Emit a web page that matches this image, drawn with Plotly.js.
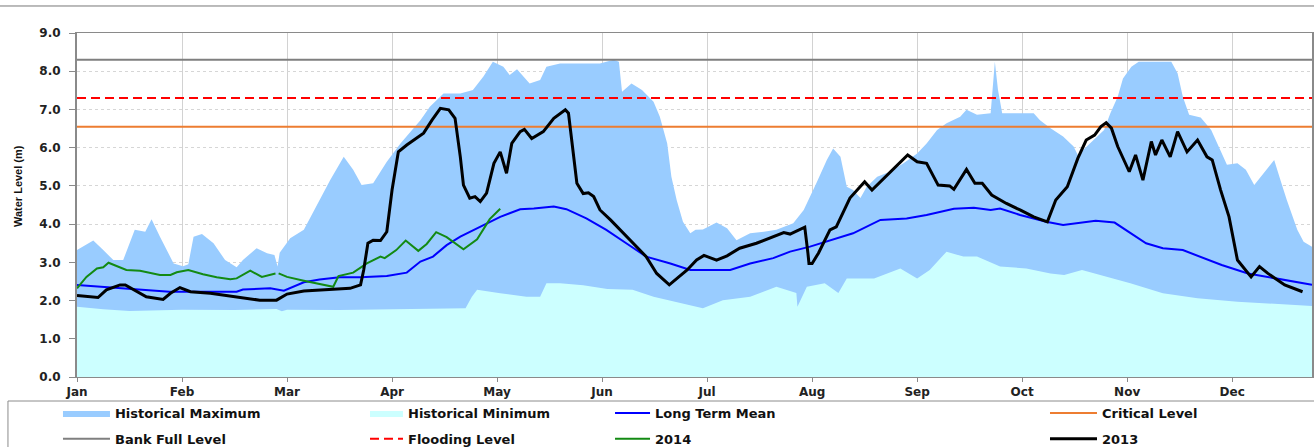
<!DOCTYPE html>
<html>
<head>
<meta charset="utf-8">
<script src="https://cdn.plot.ly/plotly-3.0.1.min.js"></script>
<style>
  body { margin: 0; background: #fff; }
  #chart { width: 1314px; height: 447px; }
</style>
</head>
<body>
<div id="chart"></div>
<script>
// months on x are month index (0 = 1 Jan, 1 = 1 Feb ...)
var monthLabels = ['Jan','Feb','Mar','Apr','May','Jun','Jul','Aug','Sep','Oct','Nov','Dec'];
var monthTicks = [0,1,2,3,4,5,6,7,8,9,10,11];
var xEnd = 11.76;

// reference levels (m)
var bankFull = 8.3;
var floodLevel = 7.3;
var criticalLevel = 6.55;

// historical maximum
var maxX = [0.00,0.155,0.25,0.346,0.44,0.55,0.65,0.71,0.79,0.92,1.01,1.06,1.11,1.19,1.30,1.41,1.52,1.58,1.71,1.81,1.88,1.91,1.93,2.03,2.16,2.28,2.41,2.54,2.63,2.71,2.82,2.95,3.08,3.27,3.36,3.49,3.65,3.77,3.87,3.96,4.06,4.12,4.19,4.31,4.41,4.47,4.60,4.79,4.98,5.11,5.16,5.19,5.28,5.38,5.49,5.55,5.62,5.66,5.71,5.77,5.84,5.89,5.96,6.09,6.19,6.28,6.41,6.54,6.66,6.82,6.92,7.04,7.14,7.20,7.27,7.33,7.39,7.46,7.52,7.62,7.74,7.87,8.00,8.09,8.19,8.28,8.41,8.47,8.57,8.70,8.72,8.74,8.77,8.81,8.98,9.11,9.17,9.27,9.39,9.49,9.53,9.65,9.78,9.84,9.91,9.96,10.04,10.11,10.42,10.48,10.53,10.59,10.70,10.80,10.89,10.95,11.05,11.13,11.21,11.30,11.40,11.46,11.52,11.62,11.68,11.76];
var maxY = [3.32,3.57,3.32,3.06,3.06,3.85,3.80,4.13,3.67,2.97,2.90,2.95,3.67,3.74,3.50,3.06,2.87,3.06,3.37,3.24,3.19,2.89,3.25,3.63,3.85,4.46,5.15,5.76,5.42,5.02,5.07,5.63,6.11,6.72,7.07,7.42,7.42,7.51,7.86,8.25,8.12,7.90,8.05,7.68,7.77,8.12,8.20,8.20,8.20,8.30,8.25,7.46,7.68,7.51,7.20,6.81,6.11,5.24,4.63,4.06,3.76,3.85,3.86,4.04,3.89,3.58,3.76,3.80,3.85,4.02,4.37,5.07,5.68,5.98,5.76,4.98,4.89,4.68,4.98,5.24,5.37,5.59,5.85,6.11,6.46,6.64,6.81,6.99,6.86,6.90,7.51,8.25,7.51,6.90,6.90,6.90,6.72,6.51,6.29,6.03,5.81,6.11,6.46,6.90,7.33,7.81,8.12,8.25,8.25,7.95,7.33,6.86,6.79,6.46,5.94,5.55,5.59,5.42,5.02,5.33,5.68,5.15,4.63,3.85,3.54,3.41];

// historical minimum
var minX = [0.00,0.25,0.50,1.00,1.50,1.90,1.95,2.00,2.50,3.00,3.50,3.70,3.76,3.81,4.03,4.28,4.41,4.47,4.60,4.82,5.05,5.29,5.49,5.74,5.96,6.15,6.41,6.66,6.85,6.86,6.95,7.12,7.25,7.33,7.59,7.84,8.00,8.12,8.28,8.44,8.57,8.79,9.04,9.27,9.40,9.57,10.03,10.34,10.67,11.05,11.76];
var minY = [1.84,1.77,1.73,1.76,1.75,1.78,1.72,1.76,1.75,1.77,1.78,1.80,2.10,2.28,2.19,2.10,2.10,2.45,2.45,2.40,2.30,2.28,2.10,1.93,1.80,2.01,2.10,2.36,2.20,1.84,2.36,2.45,2.20,2.58,2.58,2.84,2.58,2.80,3.28,3.15,3.15,2.89,2.84,2.71,2.67,2.80,2.45,2.19,2.06,1.97,1.86];

// long term mean
var meanX = [0.00,0.41,0.88,1.36,1.52,1.58,1.84,1.97,2.16,2.31,2.50,2.70,2.95,3.14,3.27,3.39,3.52,3.65,3.84,4.03,4.22,4.35,4.54,4.66,4.85,5.04,5.23,5.42,5.65,5.84,6.22,6.41,6.63,6.79,6.98,7.17,7.39,7.65,7.90,8.09,8.35,8.54,8.70,8.79,8.98,9.23,9.39,9.70,9.88,10.18,10.34,10.53,10.70,10.90,11.15,11.43,11.76];
var meanY = [2.41,2.32,2.23,2.23,2.23,2.29,2.32,2.26,2.48,2.55,2.61,2.61,2.64,2.73,3.02,3.15,3.45,3.67,3.93,4.19,4.39,4.41,4.46,4.39,4.15,3.85,3.50,3.15,2.97,2.80,2.80,2.97,3.11,3.28,3.41,3.58,3.76,4.11,4.15,4.24,4.40,4.43,4.37,4.41,4.24,4.06,3.98,4.09,4.04,3.50,3.37,3.32,3.15,2.93,2.71,2.58,2.41];

// 2014 (null = missing reading)
var y2014X = [0.00,0.09,0.19,0.25,0.30,0.38,0.47,0.60,0.79,0.89,0.95,1.06,1.20,1.33,1.46,1.52,1.57,1.65,1.76,1.87,1.89,1.90,1.92,2.00,2.16,2.31,2.44,2.49,2.63,2.76,2.89,2.93,3.04,3.13,3.25,3.33,3.42,3.52,3.68,3.81,3.93,4.03];
var y2014Y = [2.32,2.62,2.84,2.87,2.99,2.90,2.80,2.78,2.67,2.67,2.74,2.80,2.69,2.61,2.56,2.58,2.66,2.78,2.62,2.71,2.71,null,2.71,2.62,2.52,2.43,2.36,2.64,2.73,2.97,3.15,3.11,3.32,3.57,3.30,3.48,3.79,3.66,3.34,3.60,4.13,4.40];

// 2013
var y2013X = [0.00,0.20,0.28,0.41,0.46,0.57,0.66,0.82,0.89,0.98,1.08,1.27,1.52,1.74,1.90,2.00,2.16,2.41,2.60,2.70,2.73,2.77,2.82,2.89,2.95,3.00,3.06,3.14,3.30,3.38,3.46,3.54,3.60,3.65,3.68,3.74,3.79,3.84,3.90,3.97,4.03,4.09,4.14,4.22,4.26,4.33,4.44,4.54,4.65,4.68,4.73,4.76,4.82,4.87,4.92,4.98,5.08,5.17,5.30,5.42,5.52,5.64,5.81,5.90,5.97,6.09,6.19,6.31,6.47,6.60,6.73,6.79,6.93,6.96,6.97,7.00,7.06,7.17,7.23,7.36,7.50,7.57,7.65,7.77,7.91,8.00,8.09,8.20,8.31,8.35,8.47,8.55,8.62,8.71,8.85,8.98,9.11,9.24,9.32,9.43,9.53,9.61,9.69,9.75,9.80,9.85,9.91,10.02,10.08,10.15,10.23,10.27,10.33,10.41,10.48,10.57,10.67,10.76,10.81,10.89,10.97,11.05,11.18,11.26,11.34,11.50,11.67];
var y2013Y = [2.13,2.08,2.28,2.41,2.41,2.23,2.10,2.03,2.19,2.34,2.23,2.19,2.10,2.01,2.01,2.17,2.25,2.29,2.32,2.41,2.80,3.50,3.58,3.57,3.80,4.89,5.89,6.07,6.38,6.72,7.03,6.99,6.77,5.76,5.02,4.68,4.72,4.59,4.81,5.59,5.89,5.33,6.11,6.42,6.48,6.24,6.42,6.77,6.99,6.90,5.76,5.07,4.80,4.82,4.72,4.37,4.11,3.85,3.50,3.15,2.71,2.41,2.80,3.06,3.18,3.06,3.17,3.37,3.50,3.63,3.78,3.74,3.92,3.24,2.97,2.97,3.24,3.85,3.93,4.68,5.11,4.89,5.11,5.42,5.81,5.63,5.59,5.02,5.00,4.91,5.43,5.07,5.07,4.76,4.54,4.37,4.19,4.06,4.63,4.98,5.72,6.20,6.33,6.55,6.65,6.51,6.03,5.37,5.81,5.15,6.16,5.81,6.20,5.76,6.42,5.89,6.20,5.76,5.68,4.89,4.19,3.06,2.62,2.89,2.71,2.41,2.23];

var legFont = {family: 'DejaVu Sans', size: 13, color: '#111', weight: 'bold'};

var traces = [
  {x: maxX, y: maxY, name: 'Historical Maximum', type: 'scatter', mode: 'lines',
   fill: 'tozeroy', fillcolor: '#99CCFF', line: {width: 0, color: '#99CCFF'},
   legend: 'legend', legendgroup: 'a1'},
  {x: minX, y: minY, name: 'Historical Minimum', type: 'scatter', mode: 'lines',
   fill: 'tozeroy', fillcolor: '#CCFFFF', line: {width: 0, color: '#CCFFFF'},
   legend: 'legend2', legendgroup: 'b1'},
  {x: [0, xEnd], y: [bankFull, bankFull], name: 'Bank Full Level', type: 'scatter', mode: 'lines',
   line: {width: 2, color: '#7f7f7f'}, legend: 'legend', legendgroup: 'a2'},
  {x: [0, xEnd], y: [floodLevel, floodLevel], name: 'Flooding Level', type: 'scatter', mode: 'lines',
   line: {width: 2, color: '#ff0000', dash: '9px,5px'}, legend: 'legend2', legendgroup: 'b2'},
  {x: [0, xEnd], y: [criticalLevel, criticalLevel], name: 'Critical Level', type: 'scatter', mode: 'lines',
   line: {width: 2, color: '#ED7D31'}, legend: 'legend4', legendgroup: 'd1'},
  {x: meanX, y: meanY, name: 'Long Term Mean', type: 'scatter', mode: 'lines',
   line: {width: 2, color: '#0000ff'}, legend: 'legend3', legendgroup: 'c1'},
  {x: y2014X, y: y2014Y, name: '2014', type: 'scatter', mode: 'lines', connectgaps: false,
   line: {width: 2, color: '#138a13'}, legend: 'legend3', legendgroup: 'c2'},
  {x: y2013X, y: y2013Y, name: '2013', type: 'scatter', mode: 'lines',
   line: {width: 3, color: '#000000'}, legend: 'legend4', legendgroup: 'd2'}
];

function leg(x, w) {
  return {x: x, y: -0.061, xanchor: 'left', yanchor: 'top', orientation: 'v',
    traceorder: 'grouped', tracegroupgap: 6, itemwidth: w, font: legFont,
    bgcolor: 'rgba(0,0,0,0)', borderwidth: 0};
}

var layout = {
  width: 1314,
  height: 447,
  margin: {l: 77, r: 2, t: 33, b: 70, autoexpand: false},
  paper_bgcolor: '#ffffff',
  plot_bgcolor: '#ffffff',
  showlegend: true,
  legend: leg(-0.0154, 47),
  legend2: leg(0.2332, 33),
  legend3: leg(0.4316, 35),
  legend4: leg(0.7838, 47),
  xaxis: {
    range: [0, xEnd],
    tickvals: monthTicks,
    ticktext: monthLabels,
    showgrid: true,
    gridcolor: '#d2d2d2',
    zeroline: false,
    showline: true,
    linecolor: '#8a8a8a',
    linewidth: 1,
    mirror: true,
    ticks: 'outside',
    ticklen: 4,
    tickcolor: '#8a8a8a',
    tickfont: {family: 'DejaVu Sans', size: 12, color: '#222', weight: 'bold'}
  },
  yaxis: {
    range: [0, 9],
    dtick: 1,
    tick0: 0,
    tickformat: '.1f',
    showgrid: true,
    gridcolor: '#d6d6d6',
    griddash: 'dot',
    zeroline: false,
    showline: true,
    linecolor: '#8a8a8a',
    linewidth: 2,
    mirror: true,
    ticks: 'outside',
    ticklen: 6,
    tickcolor: '#8a8a8a',
    ticklabelstandoff: 6,
    tickfont: {family: 'DejaVu Sans', size: 12, color: '#222', weight: 'bold'}
  },
  shapes: [
    // legend frame
    {type: 'rect', xref: 'paper', yref: 'paper', x0: -0.0559, x1: 1.01, y0: -0.0698, y1: -0.4,
     line: {color: '#8c8c8c', width: 1}, fillcolor: 'rgba(0,0,0,0)'},
    // rule under the (cropped) title
    {type: 'line', xref: 'paper', yref: 'paper', x0: -0.07, x1: 1.01, y0: 1.0785, y1: 1.0785,
     line: {color: '#777', width: 1}}
  ],
  annotations: [
    {text: 'Water Level (m)', xref: 'paper', yref: 'paper', x: -0.0478, y: 0.555,
     xanchor: 'center', yanchor: 'middle', textangle: -90, showarrow: false,
     font: {family: 'Liberation Sans', size: 11, color: '#111', weight: 'bold'}}
  ]
};

Plotly.newPlot('chart', traces, layout, {staticPlot: true, displayModeBar: false});
</script>
</body>
</html>
